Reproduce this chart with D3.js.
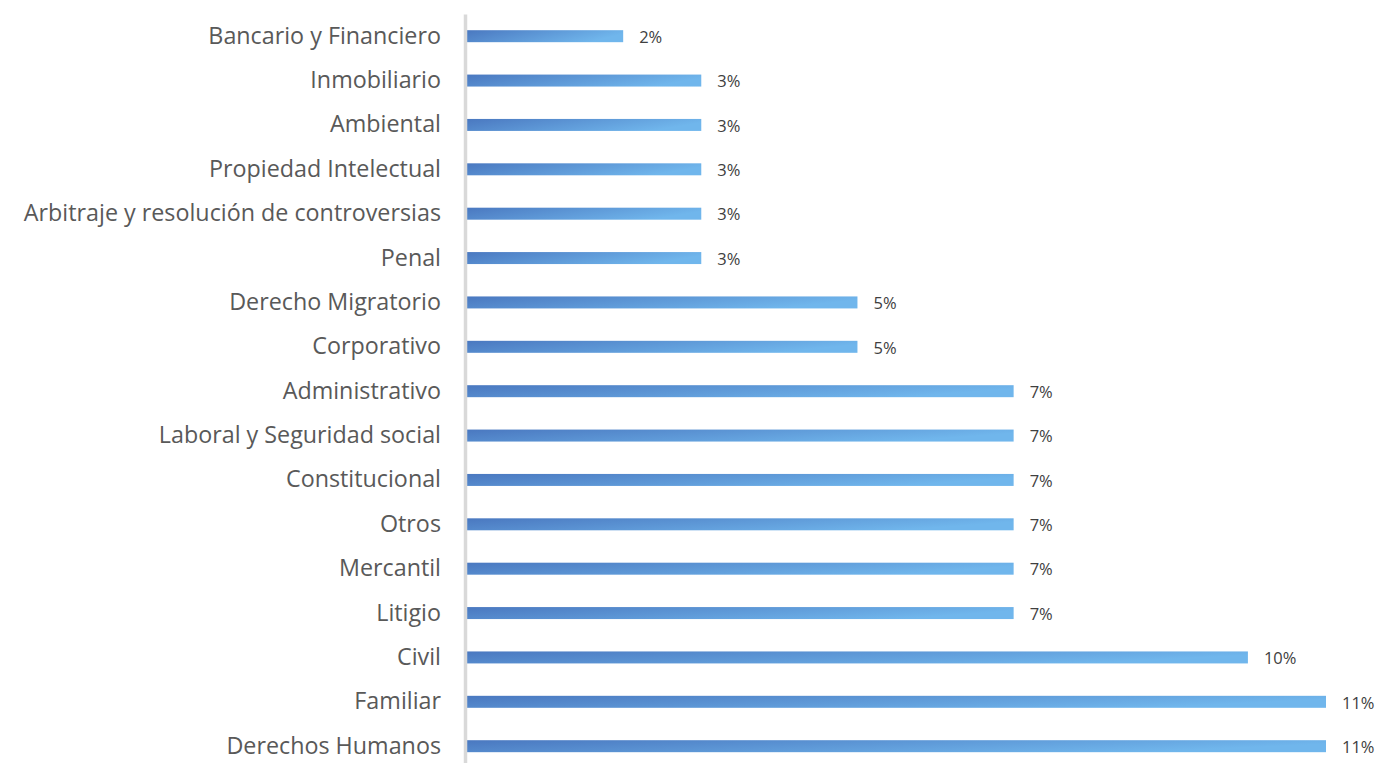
<!DOCTYPE html>
<html>
<head>
<meta charset="utf-8">
<script src="https://cdn.jsdelivr.net/npm/d3@7"></script>
<style>
  body { margin: 0; background: #fff; }
  svg { display: block; }
</style>
</head>
<body>
<div id="chart"></div>
<script>
// categories, top to bottom
var categories = ["Bancario y Financiero", "Inmobiliario", "Ambiental", "Propiedad Intelectual",
  "Arbitraje y resolución de controversias", "Penal", "Derecho Migratorio", "Corporativo",
  "Administrativo", "Laboral y Seguridad social", "Constitucional", "Otros", "Mercantil",
  "Litigio", "Civil", "Familiar", "Derechos Humanos"];
var values = [2, 3, 3, 3, 3, 3, 5, 5, 7, 7, 7, 7, 7, 7, 10, 11, 11];
var valueLabels = ["2%", "3%", "3%", "3%", "3%", "3%", "5%", "5%", "7%", "7%", "7%", "7%", "7%", "7%", "10%", "11%", "11%"];

var W = 1381, H = 763;
var margin = {top: 14, left: 467, right: 0};

var svg = d3.select("#chart").append("svg")
  .attr("width", W).attr("height", H);

var defs = svg.append("defs");
var grad = defs.append("linearGradient")
  .attr("id", "barGrad")
  .attr("x1", "0").attr("y1", "0").attr("x2", "1").attr("y2", "0.3");
grad.append("stop").attr("offset", "0%").attr("stop-color", "#4a78c0");
grad.append("stop").attr("offset", "100%").attr("stop-color", "#70b6ec");

var x = d3.scaleLinear().domain([0, 11]).range([margin.left, 1326]);
var y = d3.scaleBand().domain(categories)
  .range([margin.top, margin.top + categories.length * 44.375])
  .paddingInner(0.73).paddingOuter(0.365);

// bars
svg.selectAll("rect.bar")
  .data(values)
  .enter()
  .append("rect")
  .attr("class", "bar")
  .attr("x", x(0))
  .attr("y", function(d, i) { return y(categories[i]); })
  .attr("width", function(d) { return x(d) - x(0); })
  .attr("height", y.bandwidth())
  .style("fill", "url(#barGrad)");

// value labels
svg.selectAll("text.val")
  .data(values)
  .enter()
  .append("text")
  .attr("class", "val")
  .attr("x", function(d) { return x(d) + 16; })
  .attr("y", function(d, i) { return y(categories[i]) + y.bandwidth() / 2 + 1; })
  .attr("dy", "0.35em")
  .style("font-family", "'Open Sans', sans-serif")
  .style("font-size", "16.5px")
  .style("fill", "#404040")
  .text(function(d, i) { return valueLabels[i]; });

// category axis
var axis = svg.append("g")
  .attr("transform", "translate(" + (margin.left - 2) + ",0)")
  .call(d3.axisLeft(y).tickSize(0).tickPadding(24));
axis.select(".domain")
  .attr("stroke", "#d9d9d9")
  .attr("stroke-width", 3.5);
axis.selectAll("text")
  .style("font-family", "'Open Sans', sans-serif")
  .style("font-size", "23.3px")
  .style("fill", "#595959");
</script>
</body>
</html>
